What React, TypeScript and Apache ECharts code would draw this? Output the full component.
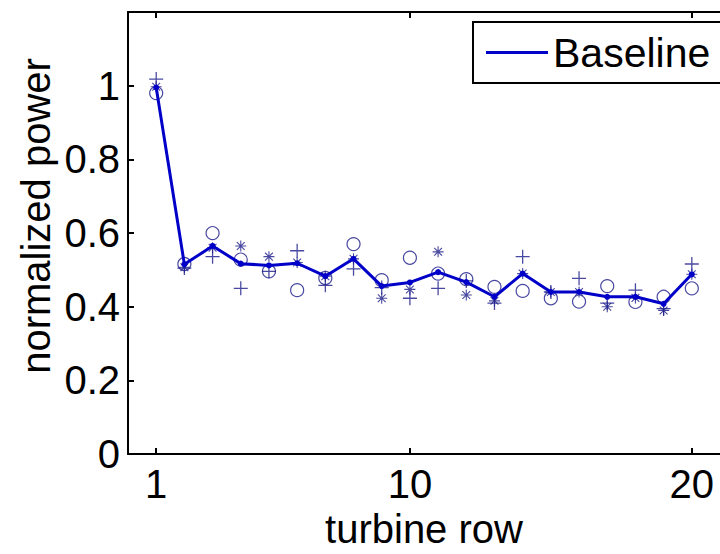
import React, { useEffect, useRef } from "react";
import * as echarts from "echarts";

const rows = [1, 2, 3, 4, 5, 6, 7, 8, 9, 10, 11, 12, 13, 14, 15, 16, 17, 18, 19, 20];
const baseline = [0.995, 0.515, 0.565, 0.517, 0.512, 0.518, 0.483, 0.53, 0.456, 0.466, 0.494, 0.467, 0.427, 0.49, 0.44, 0.44, 0.427, 0.427, 0.408, 0.488];
const circleVals = [0.98, 0.516, 0.6, 0.528, 0.496, 0.445, 0.478, 0.57, 0.472, 0.533, 0.49, 0.475, 0.454, 0.443, 0.423, 0.414, 0.456, 0.413, 0.427, 0.45];
const plusVals = [1.018, 0.505, 0.536, 0.45, 0.496, 0.552, 0.458, 0.503, 0.452, 0.423, 0.45, 0.47, 0.41, 0.536, 0.44, 0.477, 0.41, 0.445, 0.395, 0.516];
const starVals = [0.997, 0.507, 0.56, 0.565, 0.536, 0.52, 0.483, 0.53, 0.423, 0.447, 0.549, 0.432, 0.416, 0.49, 0.44, 0.44, 0.4, 0.424, 0.39, 0.488];
const xTicks = [1, 10, 20];
const yTicks = [0, 0.2, 0.4, 0.6, 0.8, 1];

const FONT = "'Liberation Sans', Arial, Helvetica, sans-serif";
const LINE_COLOR = "#0000c8";
const MARK_COLOR = "#1c1c8a";

function starPath(): string {
  const c = 12, r = 12, h = 1.2;
  let d = "";
  for (const deg of [0, 45, 90, 135]) {
    const a = (deg * Math.PI) / 180;
    const dx = Math.cos(a), dy = Math.sin(a);
    const nx = -dy, ny = dx;
    const pts = [
      [c + dx * r + nx * h, c + dy * r + ny * h],
      [c - dx * r + nx * h, c - dy * r + ny * h],
      [c - dx * r - nx * h, c - dy * r - ny * h],
      [c + dx * r - nx * h, c + dy * r - ny * h],
    ];
    d += "M" + pts.map((p) => p[0].toFixed(2) + "," + p[1].toFixed(2)).join(" L") + " Z ";
  }
  return "path://" + d;
}

const plusPath = "path://M0,10.9 L24,10.9 L24,13.1 L0,13.1 Z M10.9,0 L13.1,0 L13.1,24 L10.9,24 Z";

const pair = (vals: number[]) => rows.map((r, i) => [r, vals[i]]);

export default function App() {
  const ref = useRef<HTMLDivElement>(null);
  useEffect(() => {
    document.body.style.margin = "0";
    const chart = echarts.init(ref.current!, null, { renderer: "svg" });
    const axisLine = { show: true, lineStyle: { color: "#000", width: 2 } };
    chart.setOption({
      animation: false,
      backgroundColor: "#fff",
      grid: { left: 128, top: 12, right: -13, bottom: 92 },
      legend: {
        left: 473,
        top: 22,
        padding: [10, 20, 10, 13],
        itemWidth: 62,
        itemHeight: 3,
        borderColor: "#000",
        borderWidth: 2,
        backgroundColor: "#fff",
        data: [{ name: "Baseline", icon: "rect" }],
        textStyle: { fontSize: 41, lineHeight: 41, color: "#000", fontFamily: FONT },
      },
      xAxis: [
        {
          type: "value",
          min: 0,
          max: 21,
          position: "bottom",
          axisLine,
          splitLine: { show: false },
          axisTick: { show: true, inside: true, length: 6, customValues: xTicks, lineStyle: { color: "#000", width: 2 } },
          axisLabel: { customValues: xTicks, fontSize: 40, color: "#000", fontFamily: FONT, margin: 10 },
          name: "turbine row",
          nameLocation: "middle",
          nameGap: 32,
          nameTextStyle: { fontSize: 40, color: "#000", fontFamily: FONT, lineHeight: 40 },
        },
        {
          type: "value",
          min: 0,
          max: 21,
          position: "top",
          axisLine,
          splitLine: { show: false },
          axisTick: { show: true, inside: true, length: 6, customValues: xTicks, lineStyle: { color: "#000", width: 2 } },
          axisLabel: { show: false },
        },
      ],
      yAxis: {
        type: "value",
        min: 0,
        max: 1.2,
        axisLine,
        splitLine: { show: false },
        axisTick: { show: true, inside: true, length: 6, customValues: yTicks, lineStyle: { color: "#000", width: 2 } },
        axisLabel: { customValues: yTicks, fontSize: 40, color: "#000", fontFamily: FONT, margin: 8 },
      },
      graphic: [
        {
          type: "text",
          x: 36,
          y: 216,
          rotation: Math.PI / 2,
          style: {
            text: "normalized power",
            fontSize: 40,
            fontFamily: FONT,
            fill: "#000",
            textAlign: "center",
            textVerticalAlign: "middle",
          },
        },
      ],
      series: [
        {
          name: "circle",
          type: "scatter",
          data: pair(circleVals),
          symbol: "circle",
          symbolSize: 13,
          itemStyle: { color: "transparent", borderColor: MARK_COLOR, borderWidth: 1.2 },
          z: 3,
        },
        {
          name: "plus",
          type: "scatter",
          data: pair(plusVals),
          symbol: plusPath,
          symbolSize: 14,
          itemStyle: { color: MARK_COLOR },
          z: 3,
        },
        {
          name: "star",
          type: "scatter",
          data: pair(starVals),
          symbol: starPath(),
          symbolSize: 11,
          itemStyle: { color: MARK_COLOR },
          z: 3,
        },
        {
          name: "Baseline",
          type: "line",
          data: pair(baseline),
          symbol: "circle",
          symbolSize: 6,
          showSymbol: true,
          color: LINE_COLOR,
          lineStyle: { color: LINE_COLOR, width: 3 },
          itemStyle: { color: LINE_COLOR },
          z: 4,
        },
      ],
    });
    return () => chart.dispose();
  }, []);
  return <div ref={ref} style={{ width: 720, height: 554 }} />;
}
